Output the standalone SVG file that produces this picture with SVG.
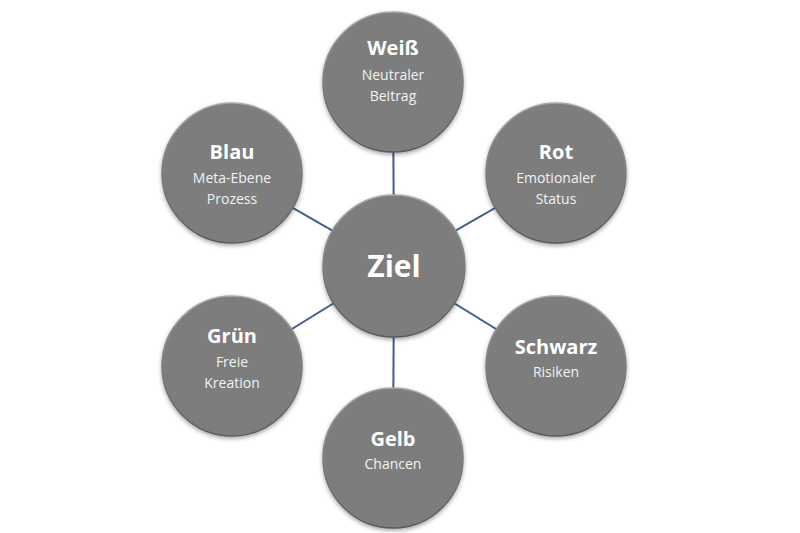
<svg xmlns="http://www.w3.org/2000/svg" width="800" height="533" viewBox="0 0 800 533">
  <defs>
    <linearGradient id="rim" x1="0" y1="0" x2="0" y2="1">
      <stop offset="0" stop-color="#a8a8a8"/>
      <stop offset="0.5" stop-color="#7d7d7d"/>
      <stop offset="1" stop-color="#5a5a5a"/>
    </linearGradient>
    <filter id="shadow" x="-20%" y="-20%" width="140%" height="140%">
      <feDropShadow dx="0" dy="2" stdDeviation="2" flood-color="#000" flood-opacity="0.35"/>
    </filter>
  </defs>
  <style>
    .node circle { fill: #7d7d7d; stroke: url(#rim); stroke-width: 1.5; filter: url(#shadow); }
    .title { font-family: "Open Sans", "Liberation Sans", sans-serif; font-weight: 700; font-size: 20px; fill: #ffffff; text-anchor: middle; }
    .sub { font-family: "Open Sans", "Liberation Sans", sans-serif; font-weight: 400; font-size: 14px; fill: #f2f2f2; text-anchor: middle; }
    .big { font-family: "Open Sans", "Liberation Sans", sans-serif; font-weight: 700; font-size: 30px; fill: #ffffff; text-anchor: middle; }
    .conn line { stroke: #3f5f88; stroke-width: 2; }
  </style>
  <rect width="800" height="533" fill="#ffffff"/>
  <g id="connectors" class="conn">
    <line x1="394" y1="266" x2="393" y2="82"/>
    <line x1="394" y1="266" x2="556" y2="173"/>
    <line x1="394" y1="266" x2="556" y2="366"/>
    <line x1="394" y1="266" x2="393" y2="458"/>
    <line x1="394" y1="266" x2="232" y2="366"/>
    <line x1="394" y1="266" x2="232" y2="173"/>
  </g>
  <g id="weiss" class="node">
    <circle cx="393" cy="82" r="70"/>
    <text class="title" x="393" y="55">Weiß</text>
    <text class="sub" x="393" y="80">Neutraler</text>
    <text class="sub" x="393" y="101">Beitrag</text>
  </g>
  <g id="rot" class="node">
    <circle cx="556" cy="173" r="70"/>
    <text class="title" x="556" y="159">Rot</text>
    <text class="sub" x="556" y="183">Emotionaler</text>
    <text class="sub" x="556" y="204">Status</text>
  </g>
  <g id="schwarz" class="node">
    <circle cx="556" cy="366" r="70"/>
    <text class="title" x="556" y="354">Schwarz</text>
    <text class="sub" x="556" y="377">Risiken</text>
  </g>
  <g id="gelb" class="node">
    <circle cx="393" cy="458" r="70"/>
    <text class="title" x="393" y="446">Gelb</text>
    <text class="sub" x="393" y="469">Chancen</text>
  </g>
  <g id="gruen" class="node">
    <circle cx="232" cy="366" r="70"/>
    <text class="title" x="232" y="343">Grün</text>
    <text class="sub" x="232" y="367">Freie</text>
    <text class="sub" x="232" y="388">Kreation</text>
  </g>
  <g id="blau" class="node">
    <circle cx="232" cy="173" r="70"/>
    <text class="title" x="232" y="159">Blau</text>
    <text class="sub" x="232" y="183">Meta-Ebene</text>
    <text class="sub" x="232" y="204">Prozess</text>
  </g>
  <g id="ziel" class="node">
    <circle cx="394" cy="266" r="71"/>
    <text class="big" x="394" y="277">Ziel</text>
  </g>
</svg>
